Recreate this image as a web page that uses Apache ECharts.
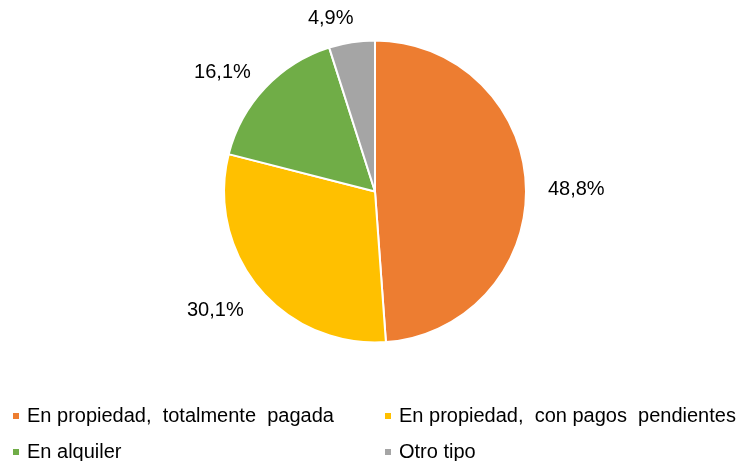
<!DOCTYPE html>
<html>
<head>
<meta charset="utf-8">
<script src="https://cdn.jsdelivr.net/npm/echarts@6/dist/echarts.min.js"></script>
<style>
  html, body { margin: 0; padding: 0; background: #fff; }
  #chart { width: 742px; height: 461px; }
</style>
</head>
<body>
<div id="chart"></div>
<script>
// tipo de tenencia de la vivienda
const categories = [
    'En propiedad,  totalmente  pagada',
    'En propiedad,  con pagos  pendientes',
    'En alquiler',
    'Otro tipo'
];
const values = [48.8, 30.1, 16.1, 4.9];
const colors = ['#ED7D31', '#FFC000', '#70AD47', '#A5A5A5'];

const fontFamily = '"Liberation Sans", Arial, sans-serif';

// legend placement: two columns, two rows
const legendCols = [11, 383];
const legendRows = [406, 442];

let chart = echarts.init(document.getElementById('chart'));

function legendItem(i, col, row) {
    return {
        left: legendCols[col],
        top: legendRows[row],
        padding: 0,
        icon: 'rect',
        itemWidth: 8,
        itemHeight: 8,
        selectedMode: false,
        data: [categories[i]],
        textStyle: {
            fontFamily: fontFamily,
            fontSize: 20,
            color: '#000',
            lineHeight: 20,
            padding: [0, 0, 0, 2]
        }
    };
}

let option = {
    animation: false,
    backgroundColor: '#fff',
    color: colors,
    legend: [
        legendItem(0, 0, 0),
        legendItem(1, 1, 0),
        legendItem(2, 0, 1),
        legendItem(3, 1, 1)
    ],
    series: [
        {
            type: 'pie',
            center: [375, 191.5],
            radius: [0, 151],
            startAngle: 90,
            clockwise: true,
            avoidLabelOverlap: false,
            itemStyle: {
                borderColor: '#fff',
                borderWidth: 2
            },
            label: {
                show: true,
                position: 'outside',
                distanceToLabelLine: -6,
                formatter: function (p) {
                    return '{v|' + p.value.toFixed(1).replace('.', ',') + '%}';
                },
                rich: {
                    v: {
                        fontFamily: fontFamily,
                        fontSize: 20,
                        color: '#000',
                        padding: [8, 0, 0, 0]
                    }
                }
            },
            labelLine: {
                show: false,
                length: 28,
                length2: 0
            },
            emphasis: { disabled: true },
            data: categories.map(function (name, i) {
                return { name: name, value: values[i] };
            })
        }
    ]
};

chart.setOption(option);
</script>
</body>
</html>
